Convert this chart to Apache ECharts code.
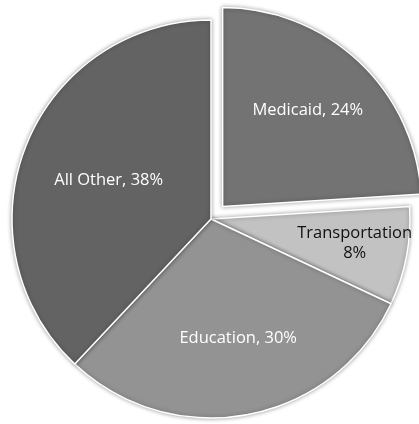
<!DOCTYPE html>
<html><head><meta charset="utf-8">
<script src="https://cdn.jsdelivr.net/npm/echarts@6/dist/echarts.min.js"></script>
<style>html,body{margin:0;padding:0;background:#fff}#c{width:419px;height:424px}</style>
</head><body><div id="c"></div>
<script>
const categories = ["Medicaid", "Transportation", "Education", "All Other"];
const values = [24, 8, 30, 38];
const labelTexts = ["Medicaid, 24%", "Transportation\n8%", "Education, 30%", "All Other, 38%"];
const exploded = [true, false, false, false];

const colors = ["#737373", "#c2c2c2", "#939393", "#636363"];
const labelColors = ["#ffffff", "#111111", "#ffffff", "#ffffff"];
const labelOffsets = [[15, -22], [43, 5], [8, 19], [-7, -1]];

const chart = echarts.init(document.getElementById('c'), null, {renderer: 'canvas'});
const data = categories.map((c, i) => {
  const lbl = {formatter: labelTexts[i], color: labelColors[i], offset: labelOffsets[i]};
  return {
    name: c,
    value: values[i],
    selected: exploded[i],
    itemStyle: {color: colors[i]},
    label: lbl,
    select: {label: lbl, itemStyle: {color: colors[i]}}
  };
});
chart.setOption({
  animation: false,
  backgroundColor: '#ffffff',
  series: [{
    type: 'pie',
    center: [211, 219],
    radius: [0, 199],
    startAngle: 90,
    clockwise: true,
    selectedMode: 'multiple',
    selectedOffset: 17,
    avoidLabelOverlap: false,
    itemStyle: {borderColor: '#ffffff', borderWidth: 1.5, shadowBlur: 4, shadowColor: 'rgba(0,0,0,0.35)'},
    label: {show: true, position: 'inside', fontFamily: 'Open Sans', fontSize: 16.5, lineHeight: 20, align: 'center'},
    labelLine: {show: false},
    emphasis: {disabled: true},
    data: data
  }]
});
</script></body></html>
